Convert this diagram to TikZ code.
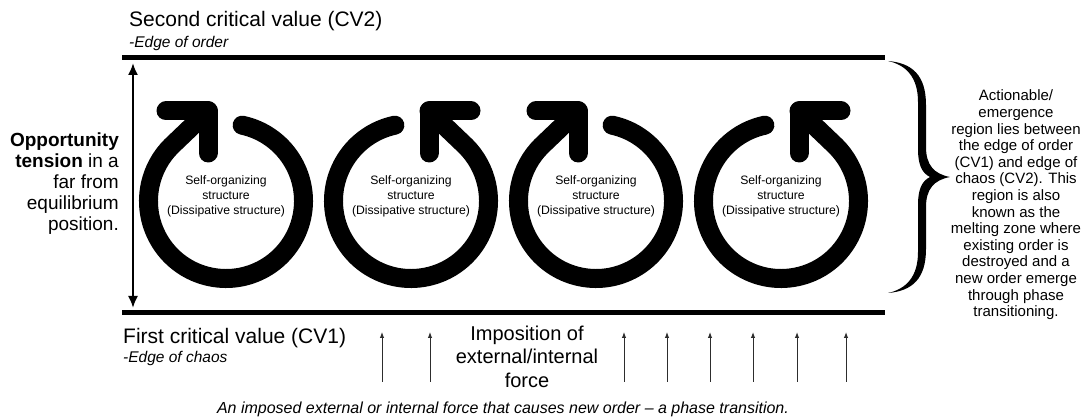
\documentclass[tikz,border=0pt]{standalone}
\usepackage{fontspec}
\setmainfont{Liberation Sans}
\usepackage{tikz}
\usetikzlibrary{arrows.meta,calc}
\definecolor{forcegrey}{RGB}{45,45,45}

\begin{document}
\begin{tikzpicture}[x=1pt, y=1pt,
    ring/.style={line width=19pt, line cap=round, line join=round},
    level/.style={line width=5pt},
    span/.style={line width=2pt, {Latex[length=12pt,width=10pt]}-{Latex[length=12pt,width=10pt]}},
    force/.style={line width=1pt, forcegrey, -{Latex[length=6pt,width=4.5pt]}},
    sotext/.style={align=center, inner sep=0pt, font=\fontsize{12.2}{15}\selectfont},
    cvtext/.style={anchor=base west, inner sep=0pt, font=\fontsize{21}{25}\selectfont},
    edgetext/.style={anchor=base west, inner sep=0pt, font=\fontsize{15.5}{18}\selectfont\itshape}]

    \useasboundingbox (0,0) rectangle (1082,417);

    % the two critical values
    \coordinate (tl) at (122,359);
    \coordinate (tr) at (885,359);
    \coordinate (bl) at (122,104);
    \coordinate (br) at (885,104);
    \draw[level] (tl) -- (tr);
    \draw[level] (bl) -- (br);

    \node[cvtext] (cv2) at (129,390) {Second critical value (CV2)};
    \node[edgetext] (order) at (129,369) {-Edge of order};
    \node[cvtext] (cv1) at (123,73) {First critical value (CV1)};
    \node[edgetext] (chaos) at (123,54) {-Edge of chaos};

    % opportunity tension
    \coordinate (spantop) at (133,354);
    \coordinate (spanbot) at (133,109);
    \draw[span] (spanbot) -- (spantop);
    \node[anchor=east, align=right, inner sep=0pt, font=\fontsize{19}{20.8}\selectfont]
        (tension) at (119,233.5) {\textbf{Opportunity}\\\textbf{tension} in a\\far from\\equilibrium\\position.};

    % dissipative structures
    \foreach \cx/\d [count=\i] in {226/-1,411/1,596/-1,781/1} {
        \coordinate (c\i) at (\cx,216);
        \draw[ring] (c\i) ++({90+12*\d}:77.5)
            arc[start angle={90+12*\d}, end angle={90+315*\d}, radius=77.5]
            -- ++({-36.8*\d},35.2) coordinate (tip\i);
        \draw[ring] ($(tip\i)+({42*\d},0)$) -- (tip\i) -- ++(0,-42);
        \node[sotext] (so\i) at (\cx,221) {Self-organizing\\structure\\(Dissipative structure)};
    }

    % imposed force
    \foreach \fx [count=\j] in {382,430,624,667,710,753,797,846} {
        \coordinate (fb\j) at (\fx,35);
        \coordinate (ft\j) at (\fx,85);
        \draw[force] (fb\j) -- (ft\j);
    }
    \node[align=center, inner sep=0pt, font=\fontsize{20}{23.5}\selectfont]
        (imposition) at (527,60.5) {Imposition of\\external/internal\\force};
    \node[anchor=base, inner sep=0pt, font=\fontsize{16}{18}\selectfont\itshape]
        (caption) at (503,3.5) {An imposed external or internal force that causes new order – a phase transition.};

    % actionable region
    \fill (888,356) .. controls (912,354) and (926,342) .. (926,312) -- (926,270)
        .. controls (926,252) and (934,243) .. (950,240)
        .. controls (934,237) and (926,228) .. (926,210) -- (926,168)
        .. controls (926,138) and (912,126) .. (888,124)
        .. controls (906,128) and (918,140) .. (918,165) -- (918,212)
        .. controls (918,228) and (922,236) .. (930,240)
        .. controls (922,244) and (918,252) .. (918,268) -- (918,315)
        .. controls (918,340) and (906,352) .. (888,356) -- cycle;
    \node[align=center, inner sep=0pt, font=\fontsize{15}{16.6}\selectfont] (region) at (1016,212)
        {Actionable/\\emergence\\region lies between\\the edge of order\\(CV1) and edge of\\chaos (CV2). This\\region is also\\known as the\\melting zone where\\existing order is\\destroyed and a\\new order emerge\\through phase\\transitioning.};
\end{tikzpicture}
\end{document}
